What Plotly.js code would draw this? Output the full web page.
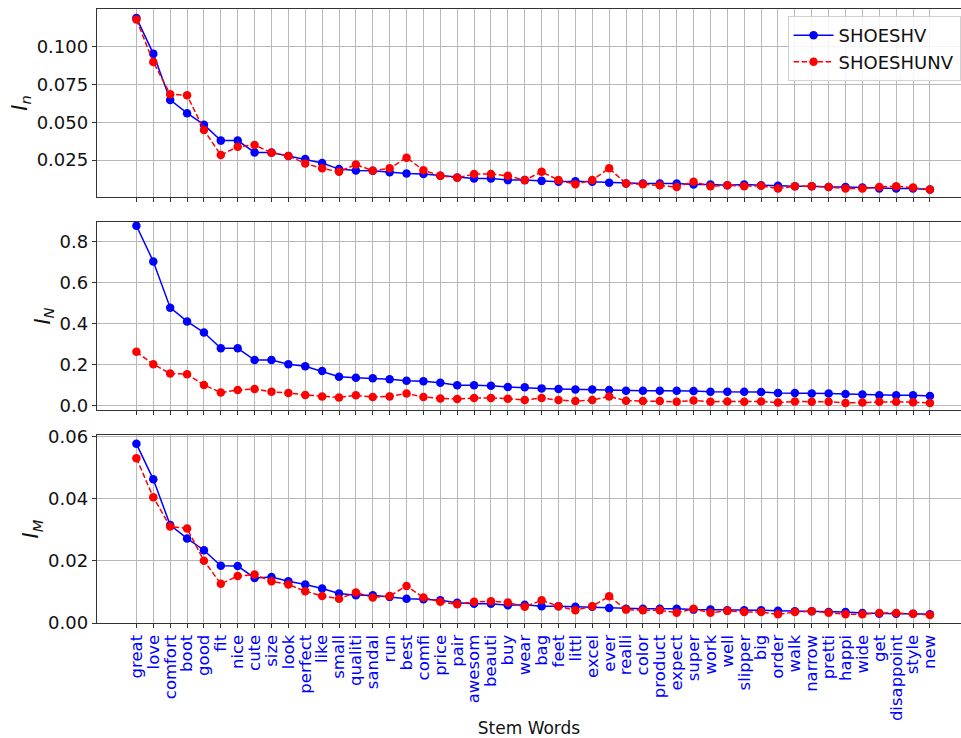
<!DOCTYPE html>
<html>
<head>
<meta charset="utf-8">
<script src="https://cdn.plot.ly/plotly-3.0.1.min.js"></script>
<style>
  html, body { margin: 0; padding: 0; background: #fff; }
  #chart { width: 961px; height: 738px; }
</style>
</head>
<body>
<div id="chart"></div>
<script>
// Stem words, ranked by importance
const stems = ["great","love","comfort","boot","good","fit","nice","cute","size","look",
  "perfect","like","small","qualiti","sandal","run","best","comfi","price","pair",
  "awesom","beauti","buy","wear","bag","feet","littl","excel","ever","realli",
  "color","product","expect","super","work","well","slipper","big","order","walk",
  "narrow","pretti","happi","wide","get","disappoint","style","new"];

// I_n
const inHV = [0.1193,0.0956,0.0649,0.0561,0.0485,0.0379,0.0379,0.0301,0.0300,0.0277,
  0.0257,0.0230,0.0190,0.0181,0.0179,0.0170,0.0161,0.0157,0.0146,0.0135,
  0.0128,0.0128,0.0117,0.0117,0.0112,0.0106,0.0110,0.0106,0.0099,0.0094,
  0.0094,0.0094,0.0094,0.0088,0.0088,0.0083,0.0088,0.0083,0.0079,0.0077,
  0.0077,0.0072,0.0072,0.0068,0.0061,0.0061,0.0061,0.0055];
const inHUNV = [0.1182,0.0900,0.0687,0.0680,0.0450,0.0283,0.0339,0.0350,0.0299,0.0277,
  0.0228,0.0195,0.0172,0.0221,0.0179,0.0195,0.0266,0.0183,0.0146,0.0133,
  0.0157,0.0157,0.0146,0.0117,0.0172,0.0117,0.0090,0.0117,0.0195,0.0094,
  0.0090,0.0083,0.0072,0.0106,0.0077,0.0083,0.0077,0.0079,0.0061,0.0077,
  0.0077,0.0072,0.0061,0.0061,0.0072,0.0077,0.0068,0.0055];

// I_N
const iNHV = [0.876,0.702,0.477,0.410,0.356,0.279,0.279,0.222,0.222,0.202,
  0.192,0.168,0.141,0.136,0.133,0.128,0.121,0.119,0.111,0.099,
  0.099,0.097,0.091,0.089,0.084,0.081,0.079,0.079,0.076,0.072,
  0.072,0.072,0.072,0.071,0.067,0.067,0.067,0.066,0.061,0.061,
  0.059,0.059,0.057,0.054,0.050,0.050,0.050,0.047];
const iNHUNV = [0.262,0.202,0.156,0.153,0.101,0.064,0.076,0.081,0.067,0.062,
  0.052,0.045,0.040,0.050,0.042,0.045,0.059,0.042,0.035,0.032,
  0.037,0.037,0.034,0.027,0.037,0.027,0.022,0.027,0.045,0.024,
  0.022,0.022,0.019,0.025,0.019,0.020,0.019,0.020,0.015,0.020,
  0.019,0.019,0.013,0.015,0.019,0.019,0.017,0.013];

// I_M
const iMHV = [0.0576,0.0462,0.0315,0.0272,0.0234,0.0184,0.0183,0.0145,0.0148,0.0134,
  0.0124,0.0111,0.0095,0.0089,0.0089,0.0084,0.0078,0.0076,0.0073,0.0065,
  0.0062,0.0062,0.0057,0.0059,0.0054,0.0054,0.0052,0.0052,0.0048,0.0046,
  0.0046,0.0046,0.0046,0.0043,0.0043,0.0041,0.0041,0.0041,0.0039,0.0038,
  0.0038,0.0035,0.0035,0.0032,0.0030,0.0030,0.0030,0.0028];
const iMHUNV = [0.0530,0.0404,0.0310,0.0304,0.0200,0.0126,0.0151,0.0156,0.0134,0.0124,
  0.0102,0.0087,0.0078,0.0098,0.0082,0.0087,0.0119,0.0082,0.0068,0.0060,
  0.0068,0.0070,0.0066,0.0052,0.0073,0.0054,0.0041,0.0054,0.0086,0.0043,
  0.0041,0.0041,0.0033,0.0046,0.0033,0.0039,0.0035,0.0035,0.0028,0.0035,
  0.0038,0.0033,0.0028,0.0028,0.0032,0.0032,0.0030,0.0026];

const seriesNames = ["SHOESHV", "SHOESHUNV"];

const hvStyle = {
  mode: "lines+markers",
  line: { color: "#0000ff", width: 1.5 },
  marker: { color: "#0000ff", size: 8.5 }
};
const unvStyle = {
  mode: "lines+markers",
  line: { color: "#ff0000", width: 1.5, dash: "5.5px,2.5px" },
  marker: { color: "#ff0000", size: 8.5 }
};

const traces = [
  Object.assign({ x: stems, y: inHV, name: seriesNames[0], xaxis: "x3", yaxis: "y3" }, hvStyle),
  Object.assign({ x: stems, y: inHUNV, name: seriesNames[1], xaxis: "x3", yaxis: "y3" }, unvStyle),
  Object.assign({ x: stems, y: iNHV, name: seriesNames[0], xaxis: "x2", yaxis: "y2", showlegend: false }, hvStyle),
  Object.assign({ x: stems, y: iNHUNV, name: seriesNames[1], xaxis: "x2", yaxis: "y2", showlegend: false }, unvStyle),
  Object.assign({ x: stems, y: iMHV, name: seriesNames[0], xaxis: "x", yaxis: "y", showlegend: false }, hvStyle),
  Object.assign({ x: stems, y: iMHUNV, name: seriesNames[1], xaxis: "x", yaxis: "y", showlegend: false }, unvStyle)
];

const FONT = "DejaVu Sans, sans-serif";
const xRange = [-2.334, 48.84];

function xAxis(anchor, showLabels) {
  return {
    anchor: anchor,
    type: "category",
    categoryorder: "array",
    categoryarray: stems,
    tickmode: "array",
    tickvals: stems,
    ticktext: stems,
    range: xRange,
    showgrid: true,
    gridcolor: "#b8b8b8",
    gridwidth: 1,
    showline: true,
    linecolor: "#333",
    linewidth: 1.2,
    mirror: true,
    ticks: "outside",
    ticklen: 4,
    tickcolor: "#333",
    showticklabels: showLabels,
    tickangle: -90,
    tickfont: { family: FONT, size: 16.5, color: "#0000ff" },
    zeroline: false
  };
}

function yAxis(anchor, domain, range, tickvals, fmt, label) {
  return {
    anchor: anchor,
    domain: domain,
    range: range,
    tickvals: tickvals,
    tickformat: fmt,
    showgrid: true,
    gridcolor: "#b8b8b8",
    gridwidth: 1,
    showline: true,
    linecolor: "#333",
    linewidth: 1.2,
    mirror: true,
    ticks: "outside",
    ticklen: 4,
    tickcolor: "#333",
    tickfont: { family: FONT, size: 18, color: "#111" },
    zeroline: false,
    title: { text: label, font: { family: FONT, size: 21, color: "#111" }, standoff: 3 }
  };
}

const layout = {
  width: 961,
  height: 738,
  margin: { l: 97, r: 0, t: 9, b: 115 },
  paper_bgcolor: "#fff",
  plot_bgcolor: "#fff",
  showlegend: true,
  legend: {
    x: 0.9995, xanchor: "right",
    y: 0.9885, yanchor: "top",
    bgcolor: "rgba(255,255,255,0.85)",
    bordercolor: "#d0d0d0",
    borderwidth: 1,
    itemwidth: 40,
    font: { family: FONT, size: 18, color: "#111" },
    tracegroupgap: 2
  },
  xaxis: Object.assign(xAxis("y", true), {
    title: { text: "Stem Words", font: { family: FONT, size: 17, color: "#111" }, standoff: 22 }
  }),
  xaxis2: Object.assign(xAxis("y2", false), { matches: "x" }),
  xaxis3: Object.assign(xAxis("y3", false), { matches: "x" }),
  yaxis: yAxis("x", [0, 0.3062], [0, 0.06045], [0, 0.02, 0.04, 0.06], ".2f", "<i>I</i><sub><i>M</i></sub>"),
  yaxis2: yAxis("x2", [0.3469, 0.6531], [-0.0213, 0.894], [0, 0.2, 0.4, 0.6, 0.8], ".1f", "<i>I</i><sub><i>N</i></sub>"),
  yaxis3: yAxis("x3", [0.6938, 1], [0.0005, 0.1252], [0.025, 0.05, 0.075, 0.1], ".3f", "<i>I</i><sub><i>n</i></sub>")
};

Plotly.newPlot("chart", traces, layout, { displayModeBar: false, staticPlot: true });
</script>
</body>
</html>
